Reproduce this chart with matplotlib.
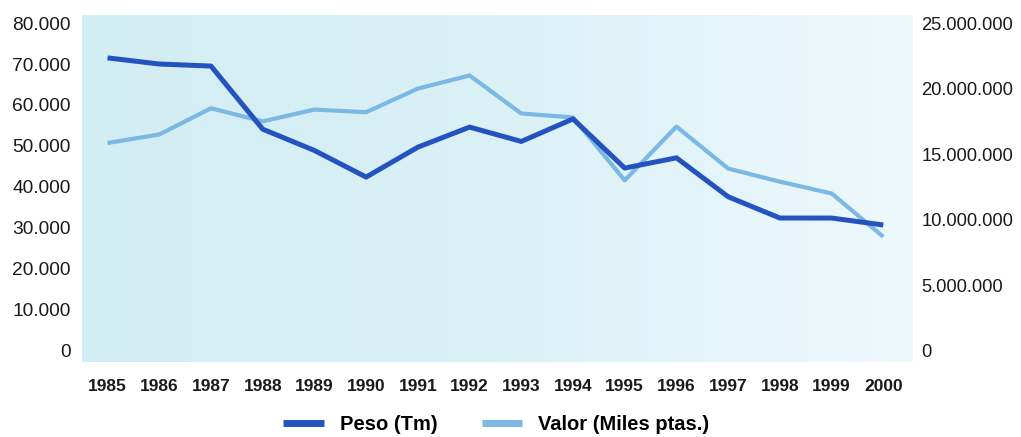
""" Peso y valor anual, 1985-2000 (doble eje) """
import matplotlib
matplotlib.use('Agg')
import matplotlib.pyplot as plt
import numpy as np
from matplotlib.colors import LinearSegmentedColormap
from matplotlib.ticker import FuncFormatter

years = [1985, 1986, 1987, 1988, 1989, 1990, 1991, 1992,
         1993, 1994, 1995, 1996, 1997, 1998, 1999, 2000]
# Peso (Tm), left axis
peso = [71500, 70000, 69500, 54100, 48900, 42400, 49700, 54600,
        51100, 56600, 44600, 47100, 37600, 32400, 32400, 30700]
# Valor (Miles ptas.), right axis
valor = [15850000, 16500000, 18500000, 17500000, 18400000, 18200000,
         20000000, 21000000, 18100000, 17800000, 13000000, 17100000,
         13900000, 12900000, 12000000, 8700000]

left_ticks = [0, 10000, 20000, 30000, 40000, 50000, 60000, 70000, 80000]
right_ticks = [0, 5000000, 10000000, 15000000, 20000000, 25000000]

DARK = '#2453c0'
LIGHT = '#7bb8e3'


def miles(v, pos=None):
    return f'{int(v):,}'.replace(',', '.')


fig = plt.figure(figsize=(10.21, 4.37), dpi=100)
ax = fig.add_axes([0.080, 0.172, 0.813, 0.794])
ax2 = ax.twinx()

# left axis on top so the dark line is drawn over the light one
ax.set_zorder(ax2.get_zorder() + 1)
ax.patch.set_visible(False)

ymin, ymax = -2700, 82000
ax.set_ylim(ymin, ymax)
ax2.set_ylim(ymin * 312.5, ymax * 312.5)
ax.set_xlim(1984.5, 2000.55)

# soft cyan background, fading to the right
cmap = LinearSegmentedColormap.from_list('bg', ['#d2edf3', '#daf1f6', '#eef9fc'])
grad = np.linspace(0, 1, 256).reshape(1, -1)
ax2.imshow(grad, cmap=cmap, aspect='auto', extent=[0, 1, 0, 1],
           transform=ax2.transAxes, zorder=0)

ax2.plot(years, valor, color=LIGHT, lw=3.0, solid_capstyle='butt',
         label='Valor (Miles ptas.)', zorder=2)
ax.plot(years, peso, color=DARK, lw=3.6, solid_capstyle='butt',
        label='Peso (Tm)', zorder=3)

for a in (ax, ax2):
    for s in a.spines.values():
        s.set_visible(False)
    a.tick_params(length=0)

ax.set_yticks(left_ticks)
ax.yaxis.set_major_formatter(FuncFormatter(miles))
ax.tick_params(axis='y', pad=8)
ax2.set_yticks(right_ticks)
ax2.yaxis.set_major_formatter(FuncFormatter(miles))
ax2.tick_params(axis='y', pad=7)

for lab in ax.get_yticklabels():
    lab.set_fontfamily(['Liberation Sans', 'DejaVu Sans'])
    lab.set_fontsize(13.8)
    lab.set_color('#1a1a1a')
for lab in ax2.get_yticklabels():
    lab.set_fontfamily(['Liberation Sans', 'DejaVu Sans'])
    lab.set_fontsize(13.2)
    lab.set_color('#1a1a1a')

ax.set_xticks(years)
ax.set_xticklabels([str(y) for y in years],
                   fontfamily=['Liberation Sans Narrow', 'Liberation Sans', 'DejaVu Sans'],
                   fontweight='bold', fontsize=12.5, color='#1a1a1a')
ax.tick_params(axis='x', pad=12)

h1, l1 = ax.get_legend_handles_labels()
h2, l2 = ax2.get_legend_handles_labels()
leg = fig.legend(h1 + h2, l1 + l2, loc='center', ncol=2,
                 bbox_to_anchor=(0.486, 0.028), frameon=False,
                 handlelength=2.0, columnspacing=2.2, handletextpad=0.8,
                 prop={'family': ['Liberation Sans', 'DejaVu Sans'],
                       'weight': 'bold', 'size': 14.5})
for line in leg.get_lines():
    line.set_linewidth(5)

fig.savefig('out.png', dpi=100)
